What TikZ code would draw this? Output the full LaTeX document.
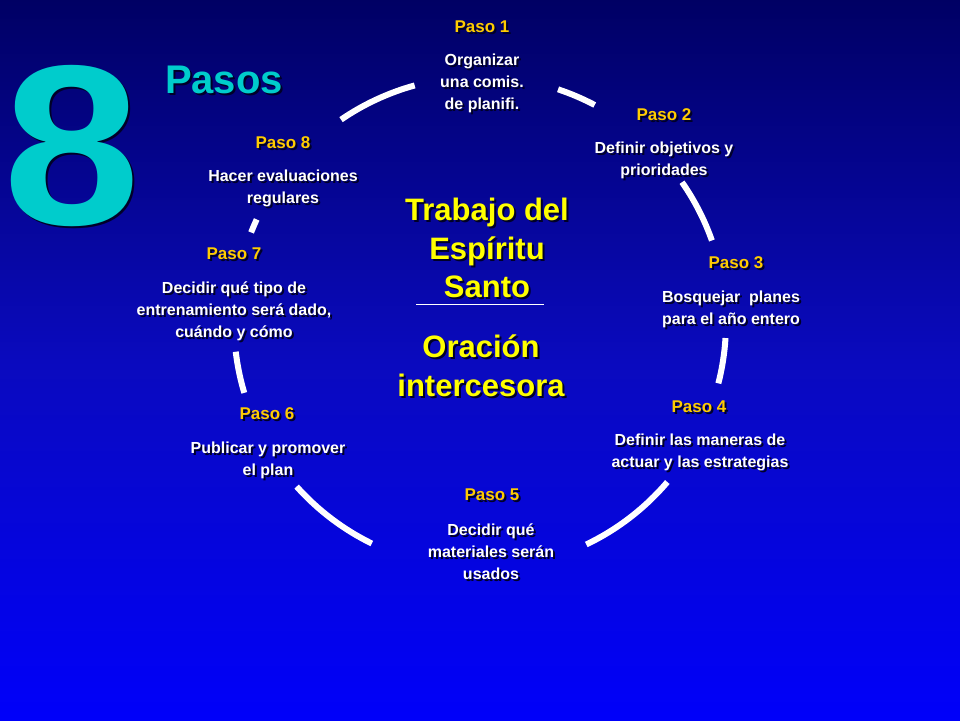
\documentclass[tikz,border=0pt]{standalone}
\usepackage{fontspec}
\usetikzlibrary{calc}
\setmainfont{Liberation Sans}
\definecolor{gold}{RGB}{255,204,0}
\definecolor{yel}{RGB}{255,255,0}
\definecolor{cy}{RGB}{0,204,204}
\definecolor{shd}{RGB}{0,0,40}
\newcommand\stxt[4]{%
  \node[#3,text=shd,xshift=2pt,yshift=-2pt] at (#2) {#4};
  \node[#3] (#1) at (#2) {#4};}
\begin{document}
\begin{tikzpicture}[x=1pt,y=-1pt,
  step lbl/.style={font=\bfseries\fontsize{17}{20}\selectfont,text=gold,inner sep=0pt},
  body/.style={font=\bfseries\fontsize{16}{22}\selectfont,text=white,align=center,inner sep=0pt},
  center txt/.style={font=\bfseries\fontsize{31}{38.5}\selectfont,text=yel,align=center,inner sep=0pt},
  arcseg/.style={white,line width=6pt}]
\shade[top color={rgb,255:red,0;green,0;blue,100},bottom color={rgb,255:red,0;green,0;blue,250},middle color={rgb,255:red,10;green,10;blue,190}] (0,0) rectangle (960,720);
\useasboundingbox (0,0) rectangle (960,720);
\coordinate (c) at (480,322.6);
% arc segments (angles measured with y up)
\foreach \a/\b in {124.4/105.4,71.5/62.2,34.8/19.5,-3.6/-14.3,-40.4/-64.4,243.9/221.8,196.6/186.8,158.5/155.2}{
  \draw[arcseg] ($(c)+({246*cos(\a)},{-246*sin(\a)})$) arc[start angle=-\a,end angle=-\b,radius=246];
}
% title
\stxt{eight}{72,146}{font=\bfseries\fontsize{228}{228}\selectfont,text=cy,inner sep=0pt,xscale=1.08}{8}
\stxt{pasos}{224,80}{font=\bfseries\fontsize{40}{40}\selectfont,text=cy,inner sep=0pt}{Pasos}
% steps
\stxt{p1}{482,27}{step lbl}{Paso 1}
\stxt{b1}{482,83}{body}{Organizar\\una comis.\\de planifi.}
\stxt{p2}{664,115}{step lbl}{Paso 2}
\stxt{b2}{664,160}{body}{Definir objetivos y\\prioridades}
\stxt{p3}{736,263}{step lbl}{Paso 3}
\stxt{b3}{731,309}{body}{Bosquejar\ \ planes\\para el año entero}
\stxt{p4}{699,407}{step lbl}{Paso 4}
\stxt{b4}{700,452}{body}{Definir las maneras de\\actuar y las estrategias}
\stxt{p5}{492,495}{step lbl}{Paso 5}
\stxt{b5}{491,552}{body}{Decidir qué\\materiales serán\\usados}
\stxt{p6}{267,414}{step lbl}{Paso 6}
\stxt{b6}{268,460}{body}{Publicar y promover\\el plan}
\stxt{p7}{234,254}{step lbl}{Paso 7}
\stxt{b7}{234,311}{body}{Decidir qué tipo de\\entrenamiento será dado,\\cuándo y cómo}
\stxt{p8}{283,143}{step lbl}{Paso 8}
\stxt{b8}{283,188}{body}{Hacer evaluaciones\\regulares}
% center
\stxt{ct}{487,248}{center txt}{Trabajo del\\Espíritu\\Santo}
\draw[white,line width=0.6pt] (416,304) -- (544,304);
\stxt{or}{481,366}{center txt}{Oración\\intercesora}
\end{tikzpicture}
\end{document}
